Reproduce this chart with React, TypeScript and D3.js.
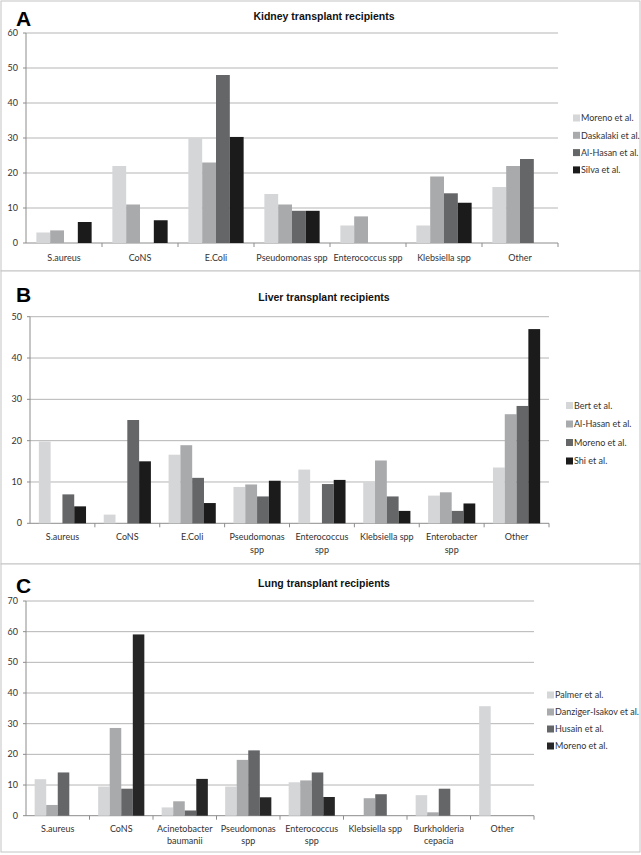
import React from "react";
import * as d3 from "d3";

const kidneyCategories = ["S.aureus", "CoNS", "E.Coli", "Pseudomonas spp", "Enterococcus spp", "Klebsiella spp", "Other"];
const kidneySeries = ["Moreno et al.", "Daskalaki et al.", "Al-Hasan et al.", "Silva et al."];
const kidneyMoreno = [3, 22, 30, 14, 5, 5, 16];
const kidneyDaskalaki = [3.6, 11, 23, 11, 7.6, 19, 22];
const kidneyAlHasan = [0, 0, 48, 9.2, 0, 14.2, 24];
const kidneySilva = [6, 6.5, 30.3, 9.2, 0, 11.5, 0];
const kidneyTicks = [0, 10, 20, 30, 40, 50, 60];

const liverCategories = ["S.aureus", "CoNS", "E.Coli", "Pseudomonas\nspp", "Enterococcus\nspp", "Klebsiella spp", "Enterobacter\nspp", "Other"];
const liverSeries = ["Bert et al.", "Al-Hasan et al.", "Moreno et al.", "Shi et al."];
const liverBert = [19.8, 2.1, 16.6, 8.8, 13, 10, 6.7, 13.5];
const liverAlHasan = [0, 0, 18.9, 9.4, 0, 15.2, 7.5, 26.4];
const liverMoreno = [7, 25, 11, 6.5, 9.5, 6.5, 3, 28.4];
const liverShi = [4.1, 15, 4.9, 10.3, 10.5, 3, 4.8, 47];
const liverTicks = [0, 10, 20, 30, 40, 50];

const lungCategories = ["S.aureus", "CoNS", "Acinetobacter\nbaumanii", "Pseudomonas\nspp", "Enterococcus\nspp", "Klebsiella spp", "Burkholderia\ncepacia", "Other"];
const lungSeries = ["Palmer et al.", "Danziger-Isakov et al.", "Husain et al.", "Moreno et al."];
const lungPalmer = [11.9, 9.5, 2.7, 9.5, 10.9, 0, 6.7, 35.7];
const lungDanziger = [3.5, 28.6, 4.7, 18.2, 11.5, 5.7, 1.1, 0];
const lungHusain = [14.1, 8.8, 1.7, 21.3, 14.1, 7, 8.8, 0];
const lungMoreno = [0, 59.1, 12, 6, 6.1, 0, 0, 0];
const lungTicks = [0, 10, 20, 30, 40, 50, 60, 70];

const seriesColors = ["#d5d6d8", "#a9aaac", "#656668", "#1b1b1b"];
const lungColors = ["#d5d6d8", "#a9aaac", "#656668", "#262626"];

const FONT = "Lato, 'Liberation Sans', sans-serif";

type PanelProps = {
  letter: string;
  title: string;
  box: [number, number];
  categories: string[];
  series: string[];
  values: number[][];
  ticks: number[];
  colors: string[];
  plot: { left: number; right: number; top: number; bottom: number };
  legend: { x: number; y: number; step: number };
  labelY: number;
  letterY: number;
  titleY: number;
};

function Panel(p: PanelProps) {
  const maxV = p.ticks[p.ticks.length - 1];
  const y = d3.scaleLinear().domain([0, maxV]).range([p.plot.bottom, p.plot.top]);
  const x0 = d3.scaleBand<string>().domain(p.categories).range([p.plot.left, p.plot.right]).padding(0);
  const x1 = d3
    .scaleBand<string>()
    .domain(p.series)
    .range([0, x0.bandwidth()])
    .paddingInner(0)
    .paddingOuter(0.75);
  const sw = 7;
  return (
    <g>
      <rect x={1} y={p.box[0]} width={639} height={p.box[1] - p.box[0]} fill="#fff" stroke="#c4c4c4" strokeWidth={1} />
      <text x={16} y={p.letterY} fontFamily="Arial, 'Liberation Sans', sans-serif" fontWeight="bold" fontSize={21} fill="#000">
        {p.letter}
      </text>
      <text x={324} y={p.titleY} textAnchor="middle" fontFamily="Arial, 'Liberation Sans', sans-serif" fontWeight="bold" fontSize={10.5} fill="#111">
        {p.title}
      </text>
      {p.ticks.map((t) => (
        <g key={t}>
          <line x1={p.plot.left} x2={p.plot.right} y1={y(t)} y2={y(t)} stroke={t === 0 ? "#8c8c8c" : "#b5b5b5"} strokeWidth={1} />
          <line x1={p.plot.left - 3} x2={p.plot.left} y1={y(t)} y2={y(t)} stroke="#8c8c8c" />
          <text x={p.plot.left - 8} y={y(t) + 3} textAnchor="end" fontFamily={FONT} fontSize={9} fill="#333">
            {t}
          </text>
        </g>
      ))}
      <line x1={p.plot.left} x2={p.plot.left} y1={p.plot.top} y2={p.plot.bottom} stroke="#8c8c8c" />
      {p.categories.map((c, i) => (
        <line key={"t" + i} x1={(x0(c) as number) + x0.bandwidth()} x2={(x0(c) as number) + x0.bandwidth()} y1={p.plot.bottom} y2={p.plot.bottom + 4} stroke="#8c8c8c" />
      ))}
      {p.categories.map((c, i) =>
        p.series.map((s, j) => {
          const v = p.values[j][i];
          if (!v) return null;
          return (
            <rect
              key={c + s}
              x={(x0(c) as number) + (x1(s) as number)}
              y={y(v)}
              width={x1.bandwidth()}
              height={p.plot.bottom - y(v)}
              fill={p.colors[j]}
            />
          );
        })
      )}
      {p.categories.map((c, i) => {
        const lines = c.split("\n");
        const cx = (x0(c) as number) + x0.bandwidth() / 2;
        return (
          <text key={"l" + i} textAnchor="middle" fontFamily={FONT} fontSize={9} fill="#333">
            {lines.map((ln, k) => (
              <tspan key={k} x={cx} y={p.labelY + k * 12.5}>
                {ln}
              </tspan>
            ))}
          </text>
        );
      })}
      {p.series.map((s, j) => (
        <g key={"lg" + j}>
          <rect x={p.legend.x} y={p.legend.y + j * p.legend.step - 3.5} width={sw} height={sw} fill={p.colors[j]} />
          <text x={p.legend.x + sw + 1} y={p.legend.y + j * p.legend.step + 3.2} fontFamily={FONT} fontSize={9} fill="#333">
            {s}
          </text>
        </g>
      ))}
    </g>
  );
}

export default function App() {
  return (
    <svg width={641} height={855} style={{ position: "fixed", left: 0, top: 0, background: "#fff" }}>
      <rect width={641} height={855} fill="#fff" />
      <Panel
        letter="A"
        title="Kidney transplant recipients"
        box={[1, 271]}
        categories={kidneyCategories}
        series={kidneySeries}
        values={[kidneyMoreno, kidneyDaskalaki, kidneyAlHasan, kidneySilva]}
        ticks={kidneyTicks}
        colors={seriesColors}
        plot={{ left: 26, right: 558, top: 33, bottom: 243 }}
        legend={{ x: 573, y: 118, step: 17.3 }}
        labelY={261}
        letterY={26}
        titleY={20}
      />
      <Panel
        letter="B"
        title="Liver transplant recipients"
        box={[271, 564]}
        categories={liverCategories}
        series={liverSeries}
        values={[liverBert, liverAlHasan, liverMoreno, liverShi]}
        ticks={liverTicks}
        colors={seriesColors}
        plot={{ left: 30, right: 549, top: 316.7, bottom: 523.3 }}
        legend={{ x: 566, y: 405.5, step: 18.5 }}
        labelY={540}
        letterY={302}
        titleY={301}
      />
      <Panel
        letter="C"
        title="Lung transplant recipients"
        box={[564, 852]}
        categories={lungCategories}
        series={lungSeries}
        values={[lungPalmer, lungDanziger, lungHusain, lungMoreno]}
        ticks={lungTicks}
        colors={lungColors}
        plot={{ left: 26, right: 534, top: 601, bottom: 815.7 }}
        legend={{ x: 547, y: 695, step: 17 }}
        labelY={831.5}
        letterY={593}
        titleY={587}
      />
    </svg>
  );
}
